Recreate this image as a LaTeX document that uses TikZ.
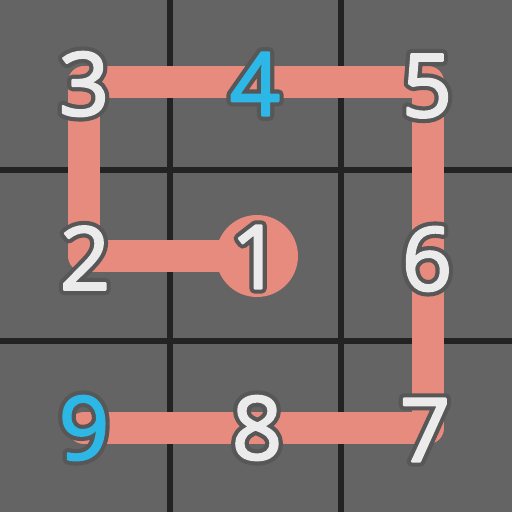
\documentclass[tikz,border=0pt]{standalone}
\usepackage{fontspec}
\setmainfont{Open Sans}
\newfontfamily\outfont[FakeBold=12]{Open Sans}
\newfontfamily\fillfont[FakeBold=2.5]{Open Sans}
\definecolor{bg}{HTML}{646464}
\definecolor{gridc}{HTML}{232323}
\definecolor{bandc}{HTML}{E88B7F}
\definecolor{digw}{HTML}{EBEBEB}
\definecolor{digb}{HTML}{2DB7E6}
\definecolor{outl}{HTML}{575757}
\tikzset{
  gridline/.style={draw=gridc, line width=6pt},
  band/.style={draw=bandc, line width=32pt, line cap=round, line join=round},
  digit/.style={inner sep=0pt, font=\fontsize{88}{88}\selectfont},
}
\newcommand{\wdig}[1]{\special{pdf:code 1 j 1 J}\rlap{\outfont\color{outl}#1}{\fillfont\color{digw}#1}}
\newcommand{\bdig}[1]{\special{pdf:code 1 j 1 J}\rlap{\outfont\color{outl}#1}{\fillfont\color{digb}#1}}
\begin{document}
\begin{tikzpicture}[x=1pt,y=-1pt]
\fill[bg] (0,0) rectangle (512,512);
\useasboundingbox (0,0) rectangle (512,512);
\draw[gridline] (170,0) -- (170,512);
\draw[gridline] (341,0) -- (341,512);
\draw[gridline] (0,170) -- (512,170);
\draw[gridline] (0,341) -- (512,341);
\coordinate (p1) at (257,256);
\coordinate (p2) at (84,256);
\coordinate (p3) at (84,82);
\coordinate (p4) at (256,82);
\coordinate (p5) at (428,82);
\coordinate (p6) at (428,256);
\coordinate (p7) at (428,428);
\coordinate (p8) at (256,428);
\coordinate (p9) at (84,428);
\draw[band] (p1) -- (p2) -- (p3) -- (p4) -- (p5) -- (p6) -- (p7) -- (p8) -- (p9);
\fill[bandc] (p1) circle (41);
\node[digit] (n1) at (256,257) {\wdig{1}};
\node[digit] (n2) at (85,258) {\wdig{2}};
\node[digit] (n3) at (84,84) {\wdig{3}};
\node[digit] (n4) at (255,84) {\bdig{4}};
\node[digit] (n5) at (427,86) {\wdig{5}};
\node[digit] (n6) at (427,259) {\wdig{6}};
\node[digit] (n7) at (425,430) {\wdig{7}};
\node[digit] (n8) at (257,428) {\wdig{8}};
\node[digit] (n9) at (84,428) {\bdig{9}};
\end{tikzpicture}
\end{document}
